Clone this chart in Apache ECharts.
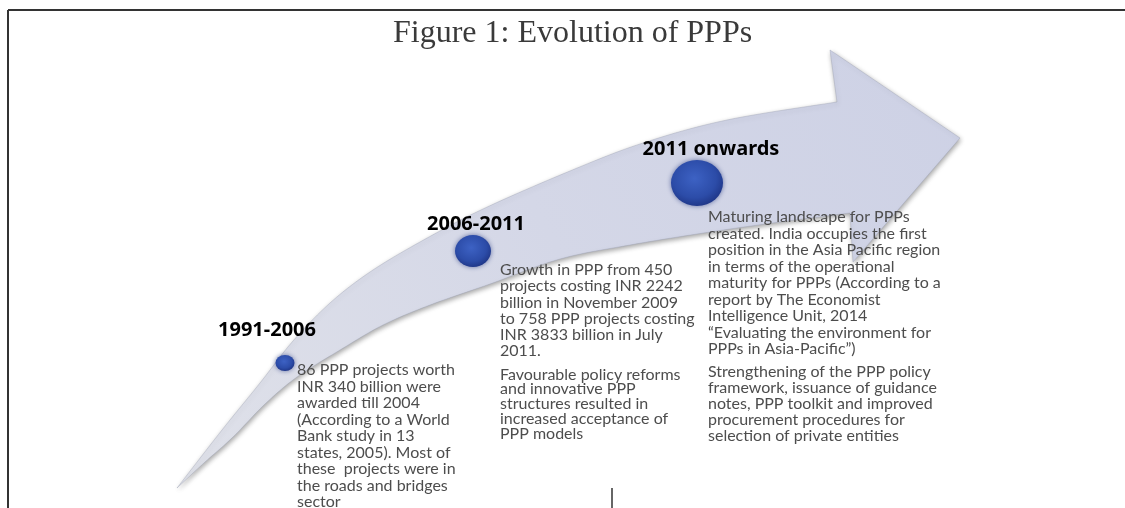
<!DOCTYPE html>
<html>
<head>
<meta charset="utf-8">
<script src="https://cdn.jsdelivr.net/npm/echarts@6/dist/echarts.min.js"></script>
<style>
  html, body { margin: 0; padding: 0; background: #ffffff; }
  #chart { width: 1125px; height: 508px; }
</style>
</head>
<body>
<div id="chart"></div>
<script>
// ---------------- content ----------------
const chartTitle = 'Figure 1: Evolution of PPPs';
const periods = ['1991-2006', '2006-2011', '2011 onwards'];
// position of each stage along the arrow (axis units)
const stageX = [285, 473, 697];
const stageY = [363, 251, 183];

const desc1991 = [
  '86 PPP projects worth',
  'INR 340 billion were',
  'awarded till 2004',
  '(According to a World',
  'Bank study in 13',
  'states, 2005). Most of',
  'these  projects were in',
  'the roads and bridges',
  'sector'
];
const desc2006a = [
  'Growth in PPP from 450',
  'projects costing INR 2242',
  'billion in November 2009',
  'to 758 PPP projects costing',
  'INR 3833 billion in July',
  '2011.'
];
const desc2006b = [
  'Favourable policy reforms',
  'and innovative PPP',
  'structures resulted in',
  'increased acceptance of',
  'PPP models'
];
const desc2011a = [
  'Maturing landscape for PPPs',
  'created. India occupies the first',
  'position in the Asia Pacific region',
  'in terms of the operational',
  'maturity for PPPs (According to a',
  'report by The Economist',
  'Intelligence Unit, 2014',
  '\u201CEvaluating the environment for',
  'PPPs in Asia-Pacific\u201D)'
];
const desc2011b = [
  'Strengthening of the PPP policy',
  'framework, issuance of guidance',
  'notes, PPP toolkit and improved',
  'procurement procedures for',
  'selection of private entities'
];

// ---------------- arrow outline (decoration, axis units) ----------------
const upperEdge = [[177,488],[222,430],[260,383],[293,341],[330,303],[370,272],[420,242],[483,209],[570,171],[643,143],[727,120],[837,102]];
const headPts = [[830,50],[960,138],[853,262],[850,213]];
const lowerEdge = [[850,213],[780,222],[710,232],[630,245],[560,259],[490,284],[430,305],[383,325],[340,350],[297,377],[265,404],[233,437],[205,462],[177,488]];

function sampleCurve(pts, steps) {
  const out = [];
  for (let i = 0; i < pts.length - 1; i++) {
    const p0 = pts[i - 1] || pts[i], p1 = pts[i], p2 = pts[i + 1], p3 = pts[i + 2] || pts[i + 1];
    const c1 = [p1[0] + (p2[0] - p0[0]) / 6, p1[1] + (p2[1] - p0[1]) / 6];
    const c2 = [p2[0] - (p3[0] - p1[0]) / 6, p2[1] - (p3[1] - p1[1]) / 6];
    for (let s = 0; s < steps; s++) {
      const t = s / steps, u = 1 - t;
      out.push([
        u*u*u*p1[0] + 3*u*u*t*c1[0] + 3*u*t*t*c2[0] + t*t*t*p2[0],
        u*u*u*p1[1] + 3*u*u*t*c1[1] + 3*u*t*t*c2[1] + t*t*t*p2[1]
      ]);
    }
  }
  out.push(pts[pts.length - 1]);
  return out;
}

const chart = echarts.init(document.getElementById('chart'), null, { renderer: 'canvas' });

const descFont = 'Lato';
const descColor = '#4d4d4d';
function block(lines, x, yTop, lh) {
  return {
    type: 'text', x: x, y: yTop, z: 100,
    style: {
      text: lines.join('\n'), fill: descColor, fontFamily: descFont, fontSize: 16,
      lineHeight: lh, align: 'left', verticalAlign: 'top'
    }
  };
}
function periodLabel(i, x, y) {
  return {
    type: 'text', x: x, y: y, z: 100,
    style: {
      text: periods[i], fill: '#000', fontFamily: 'Noto Sans', fontWeight: 'bold', fontSize: 20,
      align: 'center', verticalAlign: 'middle'
    }
  };
}

const option = {
  animation: false,
  backgroundColor: '#ffffff',
  title: {
    text: chartTitle,
    left: 388, top: 13,
    textStyle: { fontFamily: 'Liberation Serif', fontSize: 32, fontWeight: 'normal', color: '#3a3a3a' }
  },
  grid: { left: 0, right: 0, top: 0, bottom: 0, show: false },
  xAxis: { type: 'value', min: 0, max: 1125, show: false },
  yAxis: { type: 'value', min: 0, max: 508, inverse: true, show: false },
  series: [
    {
      type: 'custom',
      z: 1,
      silent: true,
      data: [[0, 0]],
      renderItem: function (params, api) {
        const pts = []
          .concat(sampleCurve(upperEdge, 12))
          .concat(headPts)
          .concat(sampleCurve(lowerEdge, 12))
          .map(p => api.coord(p));
        return {
          type: 'polygon',
          shape: { points: pts },
          style: {
            fill: new echarts.graphic.LinearGradient(0, 1, 1, 0, [
              { offset: 0, color: '#dfe1e9' },
              { offset: 0.5, color: '#d4d7e7' },
              { offset: 1, color: '#cdd1e5' }
            ]),
            stroke: 'rgba(150,155,175,0.35)',
            lineWidth: 1,
            shadowBlur: 5,
            shadowColor: 'rgba(0,0,0,0.35)',
            shadowOffsetX: 1,
            shadowOffsetY: 2
          }
        };
      }
    },
    {
      type: 'scatter',
      z: 5,
      silent: true,
      data: stageX.map((x, i) => ({
        value: [x, stageY[i]],
        symbolSize: [[19, 16], [36, 32], [52, 46]][i]
      })),
      symbol: 'circle',
      itemStyle: {
        opacity: 1,
        color: new echarts.graphic.RadialGradient(0.45, 0.4, 0.6, [
          { offset: 0, color: '#3d62c4' },
          { offset: 0.7, color: '#2c4ca8' },
          { offset: 1, color: '#20388a' }
        ]),
        shadowBlur: 5,
        shadowColor: 'rgba(25,45,120,0.6)'
      }
    }
  ],
  graphic: [
    { type: 'line', z: 100, shape: { x1: 8, y1: 10, x2: 1125, y2: 10 }, style: { stroke: '#333', lineWidth: 2 } },
    { type: 'line', z: 100, shape: { x1: 8, y1: 10, x2: 8, y2: 508 }, style: { stroke: '#333', lineWidth: 2 } },
    { type: 'line', z: 100, shape: { x1: 612, y1: 488, x2: 612, y2: 508 }, style: { stroke: '#333', lineWidth: 1.5 } },
    periodLabel(0, 267, 330),
    periodLabel(1, 476, 224),
    periodLabel(2, 711, 149),
    block(desc1991, 297, 362, 16.5),
    block(desc2006a, 500, 262, 16.2),
    block(desc2006b, 500, 367, 14.8),
    block(desc2011a, 708, 209, 16.5),
    block(desc2011b, 708, 364, 16)
  ]
};
chart.setOption(option);
</script>
</body>
</html>
